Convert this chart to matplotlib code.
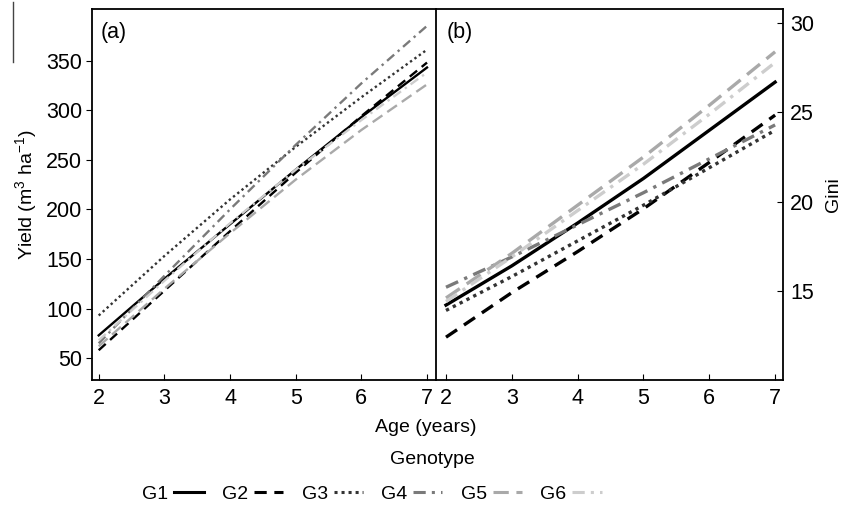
import matplotlib
matplotlib.use('Agg')
import matplotlib.pyplot as plt
from matplotlib.lines import Line2D

plt.rcParams['font.family'] = ['Liberation Sans', 'DejaVu Sans']
plt.rcParams['mathtext.default'] = 'regular'

# data
ages = [2, 3, 4, 5, 6, 7]
genotypes = ['G1', 'G2', 'G3', 'G4', 'G5', 'G6']

yield_vals = {
    'G1': [73, 130, 185, 240, 293, 343],
    'G2': [58, 118, 178, 237, 294, 348],
    'G3': [93, 153, 210, 263, 313, 361],
    'G4': [65, 133, 200, 265, 327, 385],
    'G5': [62, 120, 176, 230, 280, 326],
    'G6': [68, 128, 186, 240, 290, 338],
}
gini_vals = {
    'G1': [14.2, 16.4, 18.8, 21.3, 24.0, 26.7],
    'G2': [12.4, 14.9, 17.2, 19.6, 22.2, 24.85],
    'G3': [13.9, 15.8, 17.8, 19.8, 21.9, 24.0],
    'G4': [15.2, 16.9, 18.7, 20.5, 22.4, 24.3],
    'G5': [14.6, 17.1, 19.8, 22.5, 25.4, 28.4],
    'G6': [14.4, 16.9, 19.5, 22.1, 24.9, 27.8],
}

yield_ticks = [50, 100, 150, 200, 250, 300, 350]
gini_ticks = [15, 20, 25, 30]

styles = {
    'G1': dict(color='black', linestyle='-'),
    'G2': dict(color='black', linestyle=(0, (4, 2.5))),
    'G3': dict(color='#333333', linestyle=(0, (1, 1.3))),
    'G4': dict(color='#7a7a7a', linestyle=(0, (4, 2, 1, 2))),
    'G5': dict(color='#a9a9a9', linestyle=(0, (5, 2.5))),
    'G6': dict(color='#cdcdcd', linestyle=(0, (4, 2, 1, 2))),
}

FS = 15.5    # tick labels
LFS = 14     # axis labels, legend

fig = plt.figure(figsize=(8.46, 5.11), dpi=100)
ax_a = fig.add_axes([92 / 846, 131 / 511, 344 / 846, 371 / 511])
ax_b = fig.add_axes([436 / 846, 131 / 511, 347 / 846, 371 / 511])

for g in genotypes:
    ax_a.plot(ages, yield_vals[g], linewidth=1.7, **styles[g])
    ax_b.plot(ages, gini_vals[g], linewidth=2.4, **styles[g])

# panel (a)
ax_a.set_xlim(1.898, 7.137)
ax_a.set_ylim(28, 402)
ax_a.set_yticks(yield_ticks)
ax_a.set_xticks(ages)
ax_a.spines['right'].set_visible(False)
ax_a.tick_params(axis='y', direction='out', length=4, labelsize=FS, pad=3)
ax_a.tick_params(axis='x', direction='in', length=4, labelsize=FS, pad=6)
ax_a.set_ylabel('Yield (m$^3$ ha$^{-1}$)', fontsize=LFS, labelpad=5)
ax_a.text(0.025, 0.965, '(a)', transform=ax_a.transAxes, fontsize=FS,
          va='top', ha='left')

# panel (b)
ax_b.set_xlim(1.848, 7.12)
ax_b.set_ylim(10, 30.8)
ax_b.set_yticks(gini_ticks)
ax_b.set_xticks(ages)
ax_b.yaxis.tick_right()
ax_b.yaxis.set_label_position('right')
ax_b.tick_params(axis='y', direction='in', length=4, labelsize=FS, pad=5)
ax_b.tick_params(axis='x', direction='in', length=4, labelsize=FS, pad=6)
ax_b.set_ylabel('Gini', fontsize=LFS, labelpad=8)
ax_b.text(0.03, 0.965, '(b)', transform=ax_b.transAxes, fontsize=FS,
          va='top', ha='left')

for ax in (ax_a, ax_b):
    for s in ax.spines.values():
        s.set_linewidth(1.3)

fig.text(426 / 846, 1 - 428 / 511, 'Age (years)', fontsize=LFS,
         ha='center', va='center')
fig.text(432 / 846, 1 - 459 / 511, 'Genotype', fontsize=LFS,
         ha='center', va='center')

handles = [Line2D([], [], linewidth=2.2, **styles[g]) for g in genotypes]
fig.legend(handles, genotypes, loc='center', ncol=6,
           bbox_to_anchor=(372 / 846, 1 - 494 / 511), frameon=False,
           fontsize=LFS, markerfirst=False, handlelength=1.5,
           handletextpad=0.3, columnspacing=0.95)

# stray rule at the left edge of the original figure
fig.add_artist(Line2D([13 / 846, 13 / 846], [1 - 2 / 511, 1 - 62 / 511],
                      color='#444444', linewidth=1.0))

fig.savefig('out.png', dpi=100)
